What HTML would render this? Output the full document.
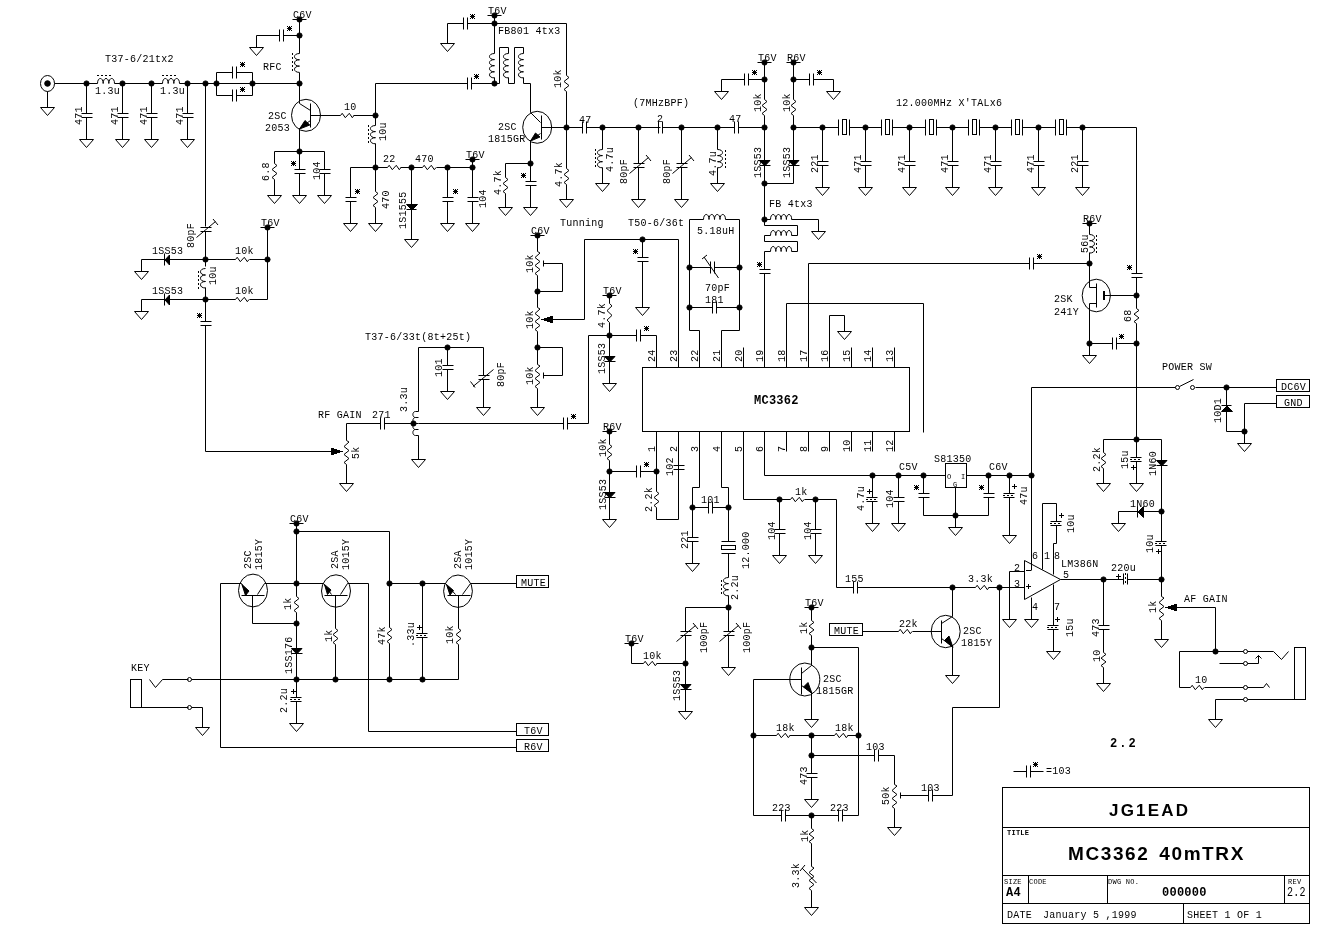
<!DOCTYPE html>
<html><head><meta charset="utf-8"><style>
html,body{margin:0;padding:0;background:#fff;width:1320px;height:928px;overflow:hidden}
svg{display:block;will-change:transform}
polyline,line,polygon,path,circle,rect,ellipse{fill:none;stroke:#000;stroke-width:1}
.f{fill:#000}
.d{stroke-dasharray:2 2}
text{font-family:"Liberation Mono",monospace;font-size:10px;fill:#000;stroke:none;letter-spacing:0.25px}
text.a{font-size:14px}
text.b{font-family:"Liberation Sans",sans-serif;font-size:16px;font-weight:bold}
</style></head><body>
<svg width="1320" height="928" viewBox="0 0 1320 928">
<ellipse cx="47.5" cy="83.5" rx="7" ry="8"/>
<circle class="f" cx="47.5" cy="83.5" r="2.8"/>
<polyline points="47.5,91.5 47.5,107.5"/>
<polygon points="40.5,107.5 54.5,107.5 47.5,115.5"/>
<polyline points="54.5,83.5 97.5,83.5"/>
<path d="M97.5,83.5 C97.5,76.8 103.17,76.8 103.17,83.5 C103.17,76.8 108.84,76.8 108.84,83.5 C108.84,76.8 114.51,76.8 114.51,83.5"/>
<line class="d" x1="97" y1="75.5" x2="113" y2="75.5"/>
<polyline points="114.5,83.5 162.5,83.5"/>
<path d="M162.5,83.5 C162.5,76.8 168.17,76.8 168.17,83.5 C168.17,76.8 173.84,76.8 173.84,83.5 C173.84,76.8 179.51,76.8 179.51,83.5"/>
<line class="d" x1="162" y1="75.5" x2="178" y2="75.5"/>
<polyline points="179.5,83.5 252.5,83.5"/>
<circle class="f" cx="86.5" cy="83.5" r="2.6"/>
<polyline points="86.5,83.5 86.5,113.5"/>
<polyline points="81.5,113.5 92.5,113.5"/>
<polyline points="81.5,117.5 92.5,117.5"/>
<polyline points="86.5,117.5 86.5,139.5"/>
<polygon points="79.5,139.5 93.5,139.5 86.5,147.5"/>
<text transform="translate(82,125) rotate(-90)">471</text>
<circle class="f" cx="122.5" cy="83.5" r="2.6"/>
<polyline points="122.5,83.5 122.5,113.5"/>
<polyline points="117.5,113.5 128.5,113.5"/>
<polyline points="117.5,117.5 128.5,117.5"/>
<polyline points="122.5,117.5 122.5,139.5"/>
<polygon points="115.5,139.5 129.5,139.5 122.5,147.5"/>
<text transform="translate(118,125) rotate(-90)">471</text>
<circle class="f" cx="151.5" cy="83.5" r="2.6"/>
<polyline points="151.5,83.5 151.5,113.5"/>
<polyline points="146.5,113.5 157.5,113.5"/>
<polyline points="146.5,117.5 157.5,117.5"/>
<polyline points="151.5,117.5 151.5,139.5"/>
<polygon points="144.5,139.5 158.5,139.5 151.5,147.5"/>
<text transform="translate(147,125) rotate(-90)">471</text>
<circle class="f" cx="187.5" cy="83.5" r="2.6"/>
<polyline points="187.5,83.5 187.5,113.5"/>
<polyline points="182.5,113.5 193.5,113.5"/>
<polyline points="182.5,117.5 193.5,117.5"/>
<polyline points="187.5,117.5 187.5,139.5"/>
<polygon points="180.5,139.5 194.5,139.5 187.5,147.5"/>
<text transform="translate(183,125) rotate(-90)">471</text>
<text x="95" y="94">1.3u</text>
<text x="160" y="94">1.3u</text>
<text x="105" y="62">T37-6/21tx2</text>
<circle class="f" cx="205.5" cy="83.5" r="2.6"/>
<circle class="f" cx="216.5" cy="83.5" r="2.6"/>
<circle class="f" cx="252.5" cy="83.5" r="2.6"/>
<polyline points="205.5,83.5 205.5,226.5"/>
<polyline points="216.5,83.5 216.5,72.5 232.5,72.5"/>
<polyline points="232.5,66.5 232.5,78.5"/>
<polyline points="236.5,66.5 236.5,78.5"/>
<polyline points="236.5,72.5 252.5,72.5 252.5,83.5"/>
<polyline points="216.5,83.5 216.5,95.5 232.5,95.5"/>
<polyline points="232.5,89.5 232.5,101.5"/>
<polyline points="236.5,89.5 236.5,101.5"/>
<polyline points="236.5,95.5 252.5,95.5 252.5,83.5"/>
<path class="f" style="stroke:none" d="M240 62h1v1h-1zM242 62h1v1h-1zM244 62h1v1h-1zM241 63h1v1h-1zM242 63h1v1h-1zM243 63h1v1h-1zM240 64h1v1h-1zM241 64h1v1h-1zM242 64h1v1h-1zM243 64h1v1h-1zM244 64h1v1h-1zM241 65h1v1h-1zM242 65h1v1h-1zM243 65h1v1h-1zM240 66h1v1h-1zM242 66h1v1h-1zM244 66h1v1h-1z"/>
<path class="f" style="stroke:none" d="M240 87h1v1h-1zM242 87h1v1h-1zM244 87h1v1h-1zM241 88h1v1h-1zM242 88h1v1h-1zM243 88h1v1h-1zM240 89h1v1h-1zM241 89h1v1h-1zM242 89h1v1h-1zM243 89h1v1h-1zM244 89h1v1h-1zM241 90h1v1h-1zM242 90h1v1h-1zM243 90h1v1h-1zM240 91h1v1h-1zM242 91h1v1h-1zM244 91h1v1h-1z"/>
<polyline points="252.5,83.5 299.5,83.5"/>
<circle class="f" cx="299.5" cy="83.5" r="2.6"/>
<polyline points="292.5,19.5 306.5,19.5"/>
<circle class="f" cx="299.5" cy="19.5" r="2.6"/>
<text x="293" y="18">C6V</text>
<polyline points="299.5,19.5 299.5,53.5"/>
<circle class="f" cx="299.5" cy="35.5" r="2.6"/>
<polyline points="299.5,35.5 283.5,35.5"/>
<polyline points="279.5,29.5 279.5,41.5"/>
<polyline points="283.5,29.5 283.5,41.5"/>
<polyline points="279.5,35.5 256.5,35.5 256.5,47.5"/>
<polygon points="249.5,47.5 263.5,47.5 256.5,55.5"/>
<path class="f" style="stroke:none" d="M287 26h1v1h-1zM289 26h1v1h-1zM291 26h1v1h-1zM288 27h1v1h-1zM289 27h1v1h-1zM290 27h1v1h-1zM287 28h1v1h-1zM288 28h1v1h-1zM289 28h1v1h-1zM290 28h1v1h-1zM291 28h1v1h-1zM288 29h1v1h-1zM289 29h1v1h-1zM290 29h1v1h-1zM287 30h1v1h-1zM289 30h1v1h-1zM291 30h1v1h-1z"/>
<path d="M299.5,53.5 C292.8,53.5 292.8,59.8 299.5,59.8 C292.8,59.8 292.8,66.1 299.5,66.1 C292.8,66.1 292.8,72.4 299.5,72.4"/>
<line class="d" x1="292.5" y1="53" x2="292.5" y2="73"/>
<text x="263" y="70">RFC</text>
<polyline points="299.5,72.5 299.5,101.5"/>
<ellipse cx="306" cy="115.3" rx="14.5" ry="16"/>
<polyline points="310.5,103.5 310.5,127.5"/>
<polyline points="299.5,103.5 310.5,110.5"/>
<polyline points="310.5,120.5 299.5,128.5"/>
<polygon class="f" points="299.5,129 305,120.5 309.8,125"/>
<polyline points="299.5,101.5 299.5,103.5"/>
<polyline points="299.5,128.5 299.5,151.5"/>
<polyline points="310.5,115.5 340.5,115.5"/>
<polyline points="340.5,115.5 342.2,113.3 345.3,117.7 349.3,113.3 352.3,117.7 354,115.5"/>
<polyline points="353.5,115.5 375.5,115.5"/>
<circle class="f" cx="375.5" cy="115.5" r="2.6"/>
<text x="268" y="119">2SC</text>
<text x="265" y="131">2053</text>
<text x="344" y="110">10</text>
<circle class="f" cx="299.5" cy="151.5" r="2.6"/>
<polyline points="274.5,163.5 274.5,151.5 324.5,151.5 324.5,169.5"/>
<polyline points="274.5,163.5 277,165.5 272,169.5 277,173.5 272,177.5 274.5,179.5"/>
<polyline points="274.5,179.5 274.5,195.5"/>
<polygon points="267.5,195.5 281.5,195.5 274.5,203.5"/>
<text transform="translate(269,181) rotate(-90)">6.8</text>
<polyline points="299.5,151.5 299.5,169.5"/>
<polyline points="294.5,169.5 305.5,169.5"/>
<polyline points="294.5,173.5 305.5,173.5"/>
<polyline points="299.5,173.5 299.5,195.5"/>
<polygon points="292.5,195.5 306.5,195.5 299.5,203.5"/>
<path class="f" style="stroke:none" d="M291 161h1v1h-1zM293 161h1v1h-1zM295 161h1v1h-1zM292 162h1v1h-1zM293 162h1v1h-1zM294 162h1v1h-1zM291 163h1v1h-1zM292 163h1v1h-1zM293 163h1v1h-1zM294 163h1v1h-1zM295 163h1v1h-1zM292 164h1v1h-1zM293 164h1v1h-1zM294 164h1v1h-1zM291 165h1v1h-1zM293 165h1v1h-1zM295 165h1v1h-1z"/>
<polyline points="319.5,169.5 330.5,169.5"/>
<polyline points="319.5,173.5 330.5,173.5"/>
<polyline points="324.5,173.5 324.5,195.5"/>
<polygon points="317.5,195.5 331.5,195.5 324.5,203.5"/>
<text transform="translate(320,180) rotate(-90)">104</text>
<polyline points="487.5,15.5 501.5,15.5"/>
<circle class="f" cx="494.5" cy="15.5" r="2.6"/>
<text x="488" y="14">T6V</text>
<polyline points="494.5,15.5 494.5,53.5"/>
<circle class="f" cx="494.5" cy="23.5" r="2.6"/>
<polyline points="494.5,23.5 467.5,23.5"/>
<polyline points="463.5,17.5 463.5,29.5"/>
<polyline points="467.5,17.5 467.5,29.5"/>
<polyline points="463.5,23.5 447.5,23.5 447.5,43.5"/>
<polygon points="440.5,43.5 454.5,43.5 447.5,51.5"/>
<path class="f" style="stroke:none" d="M470 14h1v1h-1zM472 14h1v1h-1zM474 14h1v1h-1zM471 15h1v1h-1zM472 15h1v1h-1zM473 15h1v1h-1zM470 16h1v1h-1zM471 16h1v1h-1zM472 16h1v1h-1zM473 16h1v1h-1zM474 16h1v1h-1zM471 17h1v1h-1zM472 17h1v1h-1zM473 17h1v1h-1zM470 18h1v1h-1zM472 18h1v1h-1zM474 18h1v1h-1z"/>
<polyline points="494.5,23.5 566.5,23.5 566.5,75.5"/>
<polyline points="566.5,75.5 569,77.5 564,81.5 569,85.5 564,89.5 566.5,91.5"/>
<polyline points="566.5,91.5 566.5,168.5"/>
<text transform="translate(561,88) rotate(-90)">10k</text>
<text x="498" y="34">FB801 4tx3</text>
<path d="M494.5,53.5 C487.8,53.5 487.8,59.6 494.5,59.6 C487.8,59.6 487.8,65.7 494.5,65.7 C487.8,65.7 487.8,71.8 494.5,71.8 C487.8,71.8 487.8,77.9 494.5,77.9"/>
<polyline points="494.5,77.5 494.5,83.5"/>
<circle class="f" cx="494.5" cy="83.5" r="2.6"/>
<polyline points="494.5,83.5 499.5,83.5 499.5,47.5 508.5,47.5 508.5,53.5"/>
<path d="M508.5,53.5 C501.8,53.5 501.8,59.6 508.5,59.6 C501.8,59.6 501.8,65.7 508.5,65.7 C501.8,65.7 501.8,71.8 508.5,71.8 C501.8,71.8 501.8,77.9 508.5,77.9"/>
<polyline points="508.5,77.5 508.5,83.5 514.5,83.5 514.5,47.5 523.5,47.5 523.5,53.5"/>
<path d="M523.5,53.5 C516.8,53.5 516.8,59.6 523.5,59.6 C516.8,59.6 516.8,65.7 523.5,65.7 C516.8,65.7 516.8,71.8 523.5,71.8 C516.8,71.8 516.8,77.9 523.5,77.9"/>
<polyline points="523.5,77.5 523.5,83.5 530.5,83.5 530.5,112.5"/>
<polyline points="494.5,83.5 471.5,83.5"/>
<polyline points="467.5,77.5 467.5,89.5"/>
<polyline points="471.5,77.5 471.5,89.5"/>
<polyline points="467.5,83.5 375.5,83.5 375.5,115.5"/>
<path class="f" style="stroke:none" d="M474 74h1v1h-1zM476 74h1v1h-1zM478 74h1v1h-1zM475 75h1v1h-1zM476 75h1v1h-1zM477 75h1v1h-1zM474 76h1v1h-1zM475 76h1v1h-1zM476 76h1v1h-1zM477 76h1v1h-1zM478 76h1v1h-1zM475 77h1v1h-1zM476 77h1v1h-1zM477 77h1v1h-1zM474 78h1v1h-1zM476 78h1v1h-1zM478 78h1v1h-1z"/>
<path d="M375.5,125.5 C368.8,125.5 368.8,131.6 375.5,131.6 C368.8,131.6 368.8,137.7 375.5,137.7 C368.8,137.7 368.8,143.8 375.5,143.8"/>
<line class="d" x1="368.5" y1="125" x2="368.5" y2="144"/>
<polyline points="375.5,115.5 375.5,125.5"/>
<polyline points="375.5,143.5 375.5,191.5"/>
<text transform="translate(386,141) rotate(-90)">10u</text>
<circle class="f" cx="375.5" cy="167.5" r="2.6"/>
<polyline points="350.5,197.5 350.5,167.5 387.5,167.5"/>
<polyline points="387.5,167.5 389.2,165.3 392.3,169.7 396.3,165.3 399.3,169.7 401,167.5"/>
<polyline points="400.5,167.5 422.5,167.5"/>
<polyline points="422.5,167.5 424.2,165.3 427.3,169.7 431.3,165.3 434.3,169.7 436,167.5"/>
<polyline points="436.5,167.5 472.5,167.5"/>
<text x="383" y="162">22</text>
<text x="415" y="162">470</text>
<polyline points="345.5,197.5 356.5,197.5"/>
<polyline points="345.5,201.5 356.5,201.5"/>
<polyline points="350.5,201.5 350.5,223.5"/>
<polygon points="343.5,223.5 357.5,223.5 350.5,231.5"/>
<path class="f" style="stroke:none" d="M355 189h1v1h-1zM357 189h1v1h-1zM359 189h1v1h-1zM356 190h1v1h-1zM357 190h1v1h-1zM358 190h1v1h-1zM355 191h1v1h-1zM356 191h1v1h-1zM357 191h1v1h-1zM358 191h1v1h-1zM359 191h1v1h-1zM356 192h1v1h-1zM357 192h1v1h-1zM358 192h1v1h-1zM355 193h1v1h-1zM357 193h1v1h-1zM359 193h1v1h-1z"/>
<polyline points="375.5,191.5 378,193.5 373,197.5 378,201.5 373,205.5 375.5,207.5"/>
<polyline points="375.5,207.5 375.5,223.5"/>
<polygon points="368.5,223.5 382.5,223.5 375.5,231.5"/>
<text transform="translate(389,209) rotate(-90)">470</text>
<circle class="f" cx="411.5" cy="167.5" r="2.6"/>
<polyline points="411.5,167.5 411.5,239.5"/>
<polygon points="404.5,239.5 418.5,239.5 411.5,247.5"/>
<polygon class="f" points="406.5,204.5 417.5,204.5 412,210"/>
<polyline points="406.5,209.5 416.5,209.5"/>
<text transform="translate(406,229) rotate(-90)">1S1555</text>
<circle class="f" cx="447.5" cy="167.5" r="2.6"/>
<polyline points="447.5,167.5 447.5,197.5"/>
<polyline points="442.5,197.5 453.5,197.5"/>
<polyline points="442.5,201.5 453.5,201.5"/>
<polyline points="447.5,201.5 447.5,223.5"/>
<polygon points="440.5,223.5 454.5,223.5 447.5,231.5"/>
<path class="f" style="stroke:none" d="M453 189h1v1h-1zM455 189h1v1h-1zM457 189h1v1h-1zM454 190h1v1h-1zM455 190h1v1h-1zM456 190h1v1h-1zM453 191h1v1h-1zM454 191h1v1h-1zM455 191h1v1h-1zM456 191h1v1h-1zM457 191h1v1h-1zM454 192h1v1h-1zM455 192h1v1h-1zM456 192h1v1h-1zM453 193h1v1h-1zM455 193h1v1h-1zM457 193h1v1h-1z"/>
<polyline points="465.5,159.5 479.5,159.5"/>
<circle class="f" cx="472.5" cy="159.5" r="2.6"/>
<text x="466" y="158">T6V</text>
<circle class="f" cx="472.5" cy="167.5" r="2.6"/>
<polyline points="472.5,159.5 472.5,197.5"/>
<polyline points="467.5,197.5 478.5,197.5"/>
<polyline points="467.5,201.5 478.5,201.5"/>
<polyline points="472.5,201.5 472.5,223.5"/>
<polygon points="465.5,223.5 479.5,223.5 472.5,231.5"/>
<text transform="translate(486,208) rotate(-90)">104</text>
<ellipse cx="537.2" cy="127.3" rx="14.5" ry="16"/>
<polyline points="541.5,115.5 541.5,139.5"/>
<polyline points="530.5,112.5 540.5,122.5"/>
<polyline points="540.5,133.5 530.5,140.5"/>
<polygon class="f" points="530.5,141 535.5,133 540,137"/>
<polyline points="530.5,140.5 530.5,163.5"/>
<circle class="f" cx="530.5" cy="163.5" r="2.6"/>
<text x="498" y="130">2SC</text>
<text x="488" y="142">1815GR</text>
<polyline points="541.5,127.5 582.5,127.5"/>
<circle class="f" cx="566.5" cy="127.5" r="2.6"/>
<polyline points="530.5,163.5 505.5,163.5 505.5,177.5"/>
<polyline points="505.5,177.5 508,179.5 503,183.5 508,187.5 503,191.5 505.5,193.5"/>
<polyline points="505.5,193.5 505.5,207.5"/>
<polygon points="498.5,207.5 512.5,207.5 505.5,215.5"/>
<text transform="translate(501,195) rotate(-90)">4.7k</text>
<polyline points="530.5,163.5 530.5,181.5"/>
<polyline points="525.5,181.5 536.5,181.5"/>
<polyline points="525.5,185.5 536.5,185.5"/>
<polyline points="530.5,185.5 530.5,207.5"/>
<polygon points="523.5,207.5 537.5,207.5 530.5,215.5"/>
<path class="f" style="stroke:none" d="M521 173h1v1h-1zM523 173h1v1h-1zM525 173h1v1h-1zM522 174h1v1h-1zM523 174h1v1h-1zM524 174h1v1h-1zM521 175h1v1h-1zM522 175h1v1h-1zM523 175h1v1h-1zM524 175h1v1h-1zM525 175h1v1h-1zM522 176h1v1h-1zM523 176h1v1h-1zM524 176h1v1h-1zM521 177h1v1h-1zM523 177h1v1h-1zM525 177h1v1h-1z"/>
<polyline points="566.5,168.5 569,170.5 564,174.5 569,178.5 564,182.5 566.5,184.5"/>
<polyline points="566.5,184.5 566.5,199.5"/>
<polygon points="559.5,199.5 573.5,199.5 566.5,207.5"/>
<text transform="translate(562,187) rotate(-90)">4.7k</text>
<polyline points="582.5,121.5 582.5,133.5"/>
<polyline points="586.5,121.5 586.5,133.5"/>
<polyline points="586.5,127.5 660.5,127.5"/>
<text x="579" y="123">47</text>
<circle class="f" cx="602.5" cy="127.5" r="2.6"/>
<polyline points="602.5,127.5 602.5,149.5"/>
<path d="M602.5,149.5 C595.8,149.5 595.8,155.6 602.5,155.6 C595.8,155.6 595.8,161.7 602.5,161.7 C595.8,161.7 595.8,167.8 602.5,167.8"/>
<line class="d" x1="595.5" y1="149" x2="595.5" y2="168"/>
<polyline points="602.5,167.5 602.5,183.5"/>
<polygon points="595.5,183.5 609.5,183.5 602.5,191.5"/>
<text transform="translate(613,172) rotate(-90)">4.7u</text>
<text x="633" y="106">(7MHzBPF)</text>
<circle class="f" cx="638.5" cy="127.5" r="2.6"/>
<polyline points="638.5,127.5 638.5,163.5"/>
<polyline points="633.5,163.5 644.5,163.5"/>
<polyline points="633.5,167.5 644.5,167.5"/>
<polyline points="629.5,173.5 648.5,157.5"/>
<polyline points="646,155 651,161"/>
<polyline points="638.5,167.5 638.5,199.5"/>
<polygon points="631.5,199.5 645.5,199.5 638.5,207.5"/>
<text transform="translate(627,184) rotate(-90)">80pF</text>
<polyline points="658.5,121.5 658.5,133.5"/>
<polyline points="662.5,121.5 662.5,133.5"/>
<text x="657" y="122">2</text>
<polyline points="662.5,127.5 734.5,127.5"/>
<circle class="f" cx="681.5" cy="127.5" r="2.6"/>
<polyline points="681.5,127.5 681.5,163.5"/>
<polyline points="676.5,163.5 687.5,163.5"/>
<polyline points="676.5,167.5 687.5,167.5"/>
<polyline points="672.5,173.5 691.5,157.5"/>
<polyline points="689,155 694,161"/>
<polyline points="681.5,167.5 681.5,199.5"/>
<polygon points="674.5,199.5 688.5,199.5 681.5,207.5"/>
<text transform="translate(670,184) rotate(-90)">80pF</text>
<circle class="f" cx="717.5" cy="127.5" r="2.6"/>
<polyline points="717.5,127.5 717.5,149.5"/>
<path d="M717.5,149.5 C724.2,149.5 724.2,155.6 717.5,155.6 C724.2,155.6 724.2,161.7 717.5,161.7 C724.2,161.7 724.2,167.8 717.5,167.8"/>
<line class="d" x1="725.5" y1="150" x2="725.5" y2="168"/>
<polyline points="717.5,167.5 717.5,183.5"/>
<polygon points="710.5,183.5 724.5,183.5 717.5,191.5"/>
<text transform="translate(716,176) rotate(-90)">4.7u</text>
<polyline points="734.5,121.5 734.5,133.5"/>
<polyline points="738.5,121.5 738.5,133.5"/>
<text x="729" y="122">47</text>
<polyline points="738.5,127.5 764.5,127.5"/>
<polyline points="757.5,62.5 771.5,62.5"/>
<circle class="f" cx="764.5" cy="62.5" r="2.6"/>
<text x="758" y="61">T6V</text>
<circle class="f" cx="764.5" cy="79.5" r="2.6"/>
<polyline points="764.5,62.5 764.5,99.5"/>
<polyline points="764.5,99.5 767,101.5 762,105.5 767,109.5 762,113.5 764.5,115.5"/>
<polyline points="764.5,115.5 764.5,160.5"/>
<polyline points="764.5,79.5 748.5,79.5"/>
<polyline points="744.5,73.5 744.5,85.5"/>
<polyline points="748.5,73.5 748.5,85.5"/>
<polyline points="744.5,79.5 721.5,79.5 721.5,91.5"/>
<polygon points="714.5,91.5 728.5,91.5 721.5,99.5"/>
<path class="f" style="stroke:none" d="M752 70h1v1h-1zM754 70h1v1h-1zM756 70h1v1h-1zM753 71h1v1h-1zM754 71h1v1h-1zM755 71h1v1h-1zM752 72h1v1h-1zM753 72h1v1h-1zM754 72h1v1h-1zM755 72h1v1h-1zM756 72h1v1h-1zM753 73h1v1h-1zM754 73h1v1h-1zM755 73h1v1h-1zM752 74h1v1h-1zM754 74h1v1h-1zM756 74h1v1h-1z"/>
<text transform="translate(761,112) rotate(-90)">10k</text>
<circle class="f" cx="764.5" cy="127.5" r="2.6"/>
<polyline points="786.5,62.5 800.5,62.5"/>
<circle class="f" cx="793.5" cy="62.5" r="2.6"/>
<text x="787" y="61">R6V</text>
<circle class="f" cx="793.5" cy="79.5" r="2.6"/>
<polyline points="793.5,62.5 793.5,99.5"/>
<polyline points="793.5,99.5 796,101.5 791,105.5 796,109.5 791,113.5 793.5,115.5"/>
<polyline points="793.5,115.5 793.5,160.5"/>
<polyline points="793.5,79.5 809.5,79.5"/>
<polyline points="809.5,73.5 809.5,85.5"/>
<polyline points="813.5,73.5 813.5,85.5"/>
<polyline points="813.5,79.5 833.5,79.5 833.5,91.5"/>
<polygon points="826.5,91.5 840.5,91.5 833.5,99.5"/>
<path class="f" style="stroke:none" d="M817 70h1v1h-1zM819 70h1v1h-1zM821 70h1v1h-1zM818 71h1v1h-1zM819 71h1v1h-1zM820 71h1v1h-1zM817 72h1v1h-1zM818 72h1v1h-1zM819 72h1v1h-1zM820 72h1v1h-1zM821 72h1v1h-1zM818 73h1v1h-1zM819 73h1v1h-1zM820 73h1v1h-1zM817 74h1v1h-1zM819 74h1v1h-1zM821 74h1v1h-1z"/>
<text transform="translate(790,112) rotate(-90)">10k</text>
<circle class="f" cx="793.5" cy="127.5" r="2.6"/>
<polygon class="f" points="759.5,160.5 770,160.5 764.75,166"/>
<polyline points="759.5,165.5 770.5,165.5"/>
<polygon class="f" points="788.5,160.5 799,160.5 793.75,166"/>
<polyline points="788.5,165.5 799.5,165.5"/>
<text transform="translate(761,178) rotate(-90)">1SS53</text>
<text transform="translate(790,178) rotate(-90)">1SS53</text>
<polyline points="764.5,165.5 764.5,219.5"/>
<polyline points="793.5,165.5 793.5,183.5 764.5,183.5"/>
<circle class="f" cx="764.5" cy="183.5" r="2.6"/>
<text x="769" y="207">FB 4tx3</text>
<circle class="f" cx="764.5" cy="219.5" r="2.6"/>
<polyline points="764.5,219.5 770.5,219.5"/>
<path d="M770.5,219.5 C770.5,212.8 775.8,212.8 775.8,219.5 C775.8,212.8 781.1,212.8 781.1,219.5 C781.1,212.8 786.4,212.8 786.4,219.5 C786.4,212.8 791.7,212.8 791.7,219.5"/>
<polyline points="791.5,219.5 818.5,219.5 818.5,231.5"/>
<polygon points="811.5,231.5 825.5,231.5 818.5,239.5"/>
<polyline points="764.5,219.5 764.5,225.5 797.5,225.5 797.5,235.5 791.5,235.5"/>
<path d="M770.5,235.5 C770.5,228.8 775.8,228.8 775.8,235.5 C775.8,228.8 781.1,228.8 781.1,235.5 C781.1,228.8 786.4,228.8 786.4,235.5 C786.4,228.8 791.7,228.8 791.7,235.5"/>
<polyline points="770.5,235.5 764.5,235.5 764.5,241.5 797.5,241.5 797.5,251.5 791.5,251.5"/>
<path d="M770.5,251.5 C770.5,244.8 775.8,244.8 775.8,251.5 C775.8,244.8 781.1,244.8 781.1,251.5 C781.1,244.8 786.4,244.8 786.4,251.5 C786.4,244.8 791.7,244.8 791.7,251.5"/>
<polyline points="770.5,251.5 764.5,251.5 764.5,269.5"/>
<polyline points="759.5,269.5 770.5,269.5"/>
<polyline points="759.5,273.5 770.5,273.5"/>
<path class="f" style="stroke:none" d="M757 262h1v1h-1zM759 262h1v1h-1zM761 262h1v1h-1zM758 263h1v1h-1zM759 263h1v1h-1zM760 263h1v1h-1zM757 264h1v1h-1zM758 264h1v1h-1zM759 264h1v1h-1zM760 264h1v1h-1zM761 264h1v1h-1zM758 265h1v1h-1zM759 265h1v1h-1zM760 265h1v1h-1zM757 266h1v1h-1zM759 266h1v1h-1zM761 266h1v1h-1z"/>
<polyline points="764.5,273.5 764.5,367.5"/>
<polyline points="838.5,119.5 838.5,135.5"/>
<polyline points="849.5,119.5 849.5,135.5"/>
<rect x="842.5" y="119.5" width="4" height="15"/>
<polyline points="881.5,119.5 881.5,135.5"/>
<polyline points="892.5,119.5 892.5,135.5"/>
<rect x="885.5" y="119.5" width="4" height="15"/>
<polyline points="925.5,119.5 925.5,135.5"/>
<polyline points="936.5,119.5 936.5,135.5"/>
<rect x="929.5" y="119.5" width="4" height="15"/>
<polyline points="968.5,119.5 968.5,135.5"/>
<polyline points="979.5,119.5 979.5,135.5"/>
<rect x="972.5" y="119.5" width="4" height="15"/>
<polyline points="1011.5,119.5 1011.5,135.5"/>
<polyline points="1022.5,119.5 1022.5,135.5"/>
<rect x="1015.5" y="119.5" width="4" height="15"/>
<polyline points="1055.5,119.5 1055.5,135.5"/>
<polyline points="1066.5,119.5 1066.5,135.5"/>
<rect x="1059.5" y="119.5" width="4" height="15"/>
<circle class="f" cx="822.5" cy="127.5" r="2.6"/>
<polyline points="822.5,127.5 822.5,161.5"/>
<polyline points="817.5,161.5 828.5,161.5"/>
<polyline points="817.5,165.5 828.5,165.5"/>
<polyline points="822.5,165.5 822.5,187.5"/>
<polygon points="815.5,187.5 829.5,187.5 822.5,195.5"/>
<text transform="translate(818,173) rotate(-90)">221</text>
<circle class="f" cx="865.5" cy="127.5" r="2.6"/>
<polyline points="865.5,127.5 865.5,161.5"/>
<polyline points="860.5,161.5 871.5,161.5"/>
<polyline points="860.5,165.5 871.5,165.5"/>
<polyline points="865.5,165.5 865.5,187.5"/>
<polygon points="858.5,187.5 872.5,187.5 865.5,195.5"/>
<text transform="translate(861,173) rotate(-90)">471</text>
<circle class="f" cx="909.5" cy="127.5" r="2.6"/>
<polyline points="909.5,127.5 909.5,161.5"/>
<polyline points="904.5,161.5 915.5,161.5"/>
<polyline points="904.5,165.5 915.5,165.5"/>
<polyline points="909.5,165.5 909.5,187.5"/>
<polygon points="902.5,187.5 916.5,187.5 909.5,195.5"/>
<text transform="translate(905,173) rotate(-90)">471</text>
<circle class="f" cx="952.5" cy="127.5" r="2.6"/>
<polyline points="952.5,127.5 952.5,161.5"/>
<polyline points="947.5,161.5 958.5,161.5"/>
<polyline points="947.5,165.5 958.5,165.5"/>
<polyline points="952.5,165.5 952.5,187.5"/>
<polygon points="945.5,187.5 959.5,187.5 952.5,195.5"/>
<text transform="translate(948,173) rotate(-90)">471</text>
<circle class="f" cx="995.5" cy="127.5" r="2.6"/>
<polyline points="995.5,127.5 995.5,161.5"/>
<polyline points="990.5,161.5 1001.5,161.5"/>
<polyline points="990.5,165.5 1001.5,165.5"/>
<polyline points="995.5,165.5 995.5,187.5"/>
<polygon points="988.5,187.5 1002.5,187.5 995.5,195.5"/>
<text transform="translate(991,173) rotate(-90)">471</text>
<circle class="f" cx="1038.5" cy="127.5" r="2.6"/>
<polyline points="1038.5,127.5 1038.5,161.5"/>
<polyline points="1033.5,161.5 1044.5,161.5"/>
<polyline points="1033.5,165.5 1044.5,165.5"/>
<polyline points="1038.5,165.5 1038.5,187.5"/>
<polygon points="1031.5,187.5 1045.5,187.5 1038.5,195.5"/>
<text transform="translate(1034,173) rotate(-90)">471</text>
<circle class="f" cx="1082.5" cy="127.5" r="2.6"/>
<polyline points="1082.5,127.5 1082.5,161.5"/>
<polyline points="1077.5,161.5 1088.5,161.5"/>
<polyline points="1077.5,165.5 1088.5,165.5"/>
<polyline points="1082.5,165.5 1082.5,187.5"/>
<polygon points="1075.5,187.5 1089.5,187.5 1082.5,195.5"/>
<text transform="translate(1078,173) rotate(-90)">221</text>
<polyline points="793.5,127.5 838.5,127.5"/>
<polyline points="849.5,127.5 881.5,127.5"/>
<polyline points="892.5,127.5 925.5,127.5"/>
<polyline points="936.5,127.5 968.5,127.5"/>
<polyline points="979.5,127.5 1011.5,127.5"/>
<polyline points="1022.5,127.5 1055.5,127.5"/>
<polyline points="1066.5,127.5 1136.5,127.5 1136.5,273.5"/>
<text x="896" y="106">12.000MHz X'TALx6</text>
<polyline points="200.5,227.5 211.5,227.5"/>
<polyline points="200.5,231.5 211.5,231.5"/>
<polyline points="196.5,237.5 215.5,221.5"/>
<polyline points="213,219 218,225"/>
<text transform="translate(194,248) rotate(-90)">80pF</text>
<polyline points="205.5,231.5 205.5,266.5"/>
<circle class="f" cx="205.5" cy="259.5" r="2.6"/>
<polyline points="260.5,227.5 274.5,227.5"/>
<circle class="f" cx="267.5" cy="227.5" r="2.6"/>
<text x="261" y="226">T6V</text>
<polyline points="141.5,271.5 141.5,259.5 164.5,259.5"/>
<polygon points="134.5,271.5 148.5,271.5 141.5,279.5"/>
<polygon class="f" points="165,260 169.5,255 169.5,265"/>
<polyline points="164.5,253.5 164.5,265.5"/>
<polyline points="169.5,259.5 235.5,259.5"/>
<polyline points="235.5,259.5 237.2,257.3 240.3,261.7 244.3,257.3 247.3,261.7 249,259.5"/>
<polyline points="249.5,259.5 267.5,259.5"/>
<circle class="f" cx="267.5" cy="259.5" r="2.6"/>
<polyline points="267.5,227.5 267.5,299.5 249.5,299.5"/>
<polyline points="235.5,299.5 237.2,297.3 240.3,301.7 244.3,297.3 247.3,301.7 249,299.5"/>
<polyline points="235.5,299.5 169.5,299.5"/>
<text x="152" y="254">1SS53</text>
<text x="235" y="254">10k</text>
<text x="152" y="294">1SS53</text>
<text x="235" y="294">10k</text>
<path d="M205.5,268.5 C198.8,268.5 198.8,275 205.5,275 C198.8,275 198.8,281.5 205.5,281.5 C198.8,281.5 198.8,288 205.5,288"/>
<line class="d" x1="198.5" y1="271" x2="198.5" y2="289"/>
<text transform="translate(216,285) rotate(-90)">10u</text>
<polyline points="205.5,287.5 205.5,321.5"/>
<circle class="f" cx="205.5" cy="299.5" r="2.6"/>
<polyline points="141.5,311.5 141.5,299.5 164.5,299.5"/>
<polygon points="134.5,311.5 148.5,311.5 141.5,319.5"/>
<polygon class="f" points="165,300 169.5,295 169.5,305"/>
<polyline points="164.5,293.5 164.5,305.5"/>
<polyline points="200.5,321.5 211.5,321.5"/>
<polyline points="200.5,325.5 211.5,325.5"/>
<path class="f" style="stroke:none" d="M197 313h1v1h-1zM199 313h1v1h-1zM201 313h1v1h-1zM198 314h1v1h-1zM199 314h1v1h-1zM200 314h1v1h-1zM197 315h1v1h-1zM198 315h1v1h-1zM199 315h1v1h-1zM200 315h1v1h-1zM201 315h1v1h-1zM198 316h1v1h-1zM199 316h1v1h-1zM200 316h1v1h-1zM197 317h1v1h-1zM199 317h1v1h-1zM201 317h1v1h-1z"/>
<polyline points="205.5,325.5 205.5,451.5 332.5,451.5"/>
<text x="318" y="418">RF GAIN</text>
<text x="372" y="418">271</text>
<polyline points="346.5,440.5 346.5,423.5 380.5,423.5"/>
<polyline points="380.5,417.5 380.5,429.5"/>
<polyline points="384.5,417.5 384.5,429.5"/>
<polyline points="384.5,423.5 418.5,423.5"/>
<circle class="f" cx="413.5" cy="423.5" r="2.6"/>
<polyline points="346.5,440.5 349,442 344,446.5 349,450.5 344,454.5 349,458.5 344,462.5 346.5,464.5"/>
<polyline points="346.5,464.5 346.5,483.5"/>
<polygon points="339.5,483.5 353.5,483.5 346.5,491.5"/>
<path class="f" style="stroke:none" d="M340 451h3v1h-3zM337 450h3v3h-3zM334 449h3v5h-3zM331 448h3v7h-3z"/>
<text transform="translate(359,459) rotate(-90)">5k</text>
<text x="365" y="340">T37-6/33t(8t+25t)</text>
<polyline points="418.5,347.5 418.5,411.5 415.5,411.5"/>
<path d="M415.5,411.5 C412,411.5 412,417.5 415.5,417.5 L418.5,417.5 M415.5,417.5 C412,417.5 412,423.5 415.5,423.5 M415.5,423.5 C412,423.5 412,429.5 415.5,429.5 L418.5,429.5 M415.5,429.5 C412,429.5 412,435.5 415.5,435.5 L418.5,435.5"/>
<polyline points="418.5,435.5 418.5,459.5"/>
<polygon points="411.5,459.5 425.5,459.5 418.5,467.5"/>
<text transform="translate(407,412) rotate(-90)">3.3u</text>
<polyline points="418.5,347.5 483.5,347.5 483.5,375.5"/>
<circle class="f" cx="447.5" cy="347.5" r="2.6"/>
<polyline points="447.5,347.5 447.5,365.5"/>
<polyline points="442.5,365.5 453.5,365.5"/>
<polyline points="442.5,369.5 453.5,369.5"/>
<polyline points="447.5,369.5 447.5,391.5"/>
<polygon points="440.5,391.5 454.5,391.5 447.5,399.5"/>
<text transform="translate(442,377) rotate(-90)">101</text>
<polyline points="478.5,375.5 489.5,375.5"/>
<polyline points="478.5,379.5 489.5,379.5"/>
<polyline points="473,386.5 493.5,369.5"/>
<polyline points="470.5,381.5 475,387.5"/>
<polyline points="483.5,379.5 483.5,407.5"/>
<polygon points="476.5,407.5 490.5,407.5 483.5,415.5"/>
<text transform="translate(504,387) rotate(-90)">80pF</text>
<polyline points="418.5,423.5 563.5,423.5"/>
<polyline points="563.5,417.5 563.5,429.5"/>
<polyline points="567.5,417.5 567.5,429.5"/>
<polyline points="567.5,423.5 588.5,423.5 588.5,335.5 609.5,335.5"/>
<path class="f" style="stroke:none" d="M571 414h1v1h-1zM573 414h1v1h-1zM575 414h1v1h-1zM572 415h1v1h-1zM573 415h1v1h-1zM574 415h1v1h-1zM571 416h1v1h-1zM572 416h1v1h-1zM573 416h1v1h-1zM574 416h1v1h-1zM575 416h1v1h-1zM572 417h1v1h-1zM573 417h1v1h-1zM574 417h1v1h-1zM571 418h1v1h-1zM573 418h1v1h-1zM575 418h1v1h-1z"/>
<text x="560" y="226">Tunning</text>
<polyline points="530.5,235.5 544.5,235.5"/>
<circle class="f" cx="537.5" cy="235.5" r="2.6"/>
<text x="531" y="234">C6V</text>
<polyline points="537.5,235.5 537.5,251.5"/>
<polyline points="537.5,251.5 540,253 535,257.5 540,261.5 535,265.5 540,269.5 535,273.5 537.5,275.5"/>
<polyline points="537.5,275.5 537.5,307.5"/>
<polyline points="543.5,260.5 543.5,266.5"/>
<polyline points="543.5,263.5 562.5,263.5 562.5,291.5 537.5,291.5"/>
<circle class="f" cx="537.5" cy="291.5" r="2.6"/>
<text transform="translate(533,273) rotate(-90)">10k</text>
<polyline points="537.5,307.5 540,309 535,313.5 540,317.5 535,321.5 540,325.5 535,329.5 537.5,331.5"/>
<polyline points="537.5,331.5 537.5,364.5"/>
<circle class="f" cx="537.5" cy="347.5" r="2.6"/>
<path class="f" style="stroke:none" d="M541 319h3v1h-3zM544 318h3v3h-3zM547 317h3v5h-3zM550 316h3v7h-3z"/>
<polyline points="552.5,319.5 584.5,319.5 584.5,239.5 678.5,239.5 678.5,367.5"/>
<text transform="translate(533,329) rotate(-90)">10k</text>
<polyline points="537.5,364.5 540,366 535,370.5 540,374.5 535,378.5 540,382.5 535,386.5 537.5,388.5"/>
<polyline points="537.5,388.5 537.5,407.5"/>
<polygon points="530.5,407.5 544.5,407.5 537.5,415.5"/>
<polyline points="543.5,372.5 543.5,378.5"/>
<polyline points="543.5,375.5 562.5,375.5 562.5,347.5 537.5,347.5"/>
<text transform="translate(533,385) rotate(-90)">10k</text>
<circle class="f" cx="642.5" cy="239.5" r="2.6"/>
<polyline points="642.5,239.5 642.5,257.5"/>
<polyline points="637.5,257.5 648.5,257.5"/>
<polyline points="637.5,261.5 648.5,261.5"/>
<polyline points="642.5,261.5 642.5,307.5"/>
<polygon points="635.5,307.5 649.5,307.5 642.5,315.5"/>
<path class="f" style="stroke:none" d="M633 249h1v1h-1zM635 249h1v1h-1zM637 249h1v1h-1zM634 250h1v1h-1zM635 250h1v1h-1zM636 250h1v1h-1zM633 251h1v1h-1zM634 251h1v1h-1zM635 251h1v1h-1zM636 251h1v1h-1zM637 251h1v1h-1zM634 252h1v1h-1zM635 252h1v1h-1zM636 252h1v1h-1zM633 253h1v1h-1zM635 253h1v1h-1zM637 253h1v1h-1z"/>
<polyline points="602.5,295.5 616.5,295.5"/>
<circle class="f" cx="609.5" cy="295.5" r="2.6"/>
<text x="603" y="294">T6V</text>
<polyline points="609.5,295.5 609.5,303.5"/>
<polyline points="609.5,303.5 612,305.88 607,310.62 612,315.38 607,320.12 609.5,322.5"/>
<polyline points="609.5,322.5 609.5,356.5"/>
<text transform="translate(605,328) rotate(-90)">4.7k</text>
<circle class="f" cx="609.5" cy="335.5" r="2.6"/>
<polyline points="609.5,335.5 636.5,335.5"/>
<polyline points="636.5,329.5 636.5,341.5"/>
<polyline points="640.5,329.5 640.5,341.5"/>
<polyline points="640.5,335.5 656.5,335.5 656.5,367.5"/>
<path class="f" style="stroke:none" d="M644 326h1v1h-1zM646 326h1v1h-1zM648 326h1v1h-1zM645 327h1v1h-1zM646 327h1v1h-1zM647 327h1v1h-1zM644 328h1v1h-1zM645 328h1v1h-1zM646 328h1v1h-1zM647 328h1v1h-1zM648 328h1v1h-1zM645 329h1v1h-1zM646 329h1v1h-1zM647 329h1v1h-1zM644 330h1v1h-1zM646 330h1v1h-1zM648 330h1v1h-1z"/>
<polygon class="f" points="604.5,356.5 615,356.5 609.75,362"/>
<polyline points="604.5,361.5 615.5,361.5"/>
<polyline points="609.5,361.5 609.5,383.5"/>
<polygon points="602.5,383.5 616.5,383.5 609.5,391.5"/>
<text transform="translate(605,374) rotate(-90)">1SS53</text>
<text x="628" y="226">T50-6/36t</text>
<rect x="642.5" y="367.5" width="267" height="64"/>
<text x="754" y="404" style="font-size:12px;font-weight:bold">MC3362</text>
<text transform="translate(655,362) rotate(-90)">24</text>
<text transform="translate(655,452) rotate(-90)">1</text>
<text transform="translate(677,362) rotate(-90)">23</text>
<text transform="translate(677,452) rotate(-90)">2</text>
<text transform="translate(698,362) rotate(-90)">22</text>
<text transform="translate(698,452) rotate(-90)">3</text>
<text transform="translate(720,362) rotate(-90)">21</text>
<text transform="translate(720,452) rotate(-90)">4</text>
<text transform="translate(742,362) rotate(-90)">20</text>
<text transform="translate(742,452) rotate(-90)">5</text>
<text transform="translate(763,362) rotate(-90)">19</text>
<text transform="translate(763,452) rotate(-90)">6</text>
<text transform="translate(785,362) rotate(-90)">18</text>
<text transform="translate(785,452) rotate(-90)">7</text>
<text transform="translate(807,362) rotate(-90)">17</text>
<text transform="translate(807,452) rotate(-90)">8</text>
<text transform="translate(828,362) rotate(-90)">16</text>
<text transform="translate(828,452) rotate(-90)">9</text>
<text transform="translate(850,362) rotate(-90)">15</text>
<text transform="translate(850,452) rotate(-90)">10</text>
<text transform="translate(871,362) rotate(-90)">14</text>
<text transform="translate(871,452) rotate(-90)">11</text>
<text transform="translate(893,362) rotate(-90)">13</text>
<text transform="translate(893,452) rotate(-90)">12</text>
<polyline points="743.5,347.5 743.5,367.5"/>
<polyline points="851.5,347.5 851.5,367.5"/>
<polyline points="872.5,347.5 872.5,367.5"/>
<polyline points="894.5,347.5 894.5,367.5"/>
<polyline points="786.5,431.5 786.5,451.5"/>
<polyline points="808.5,431.5 808.5,451.5"/>
<polyline points="829.5,431.5 829.5,451.5"/>
<polyline points="851.5,431.5 851.5,451.5"/>
<polyline points="872.5,431.5 872.5,451.5"/>
<polyline points="894.5,431.5 894.5,451.5"/>
<polyline points="689.5,330.5 689.5,219.5 703.5,219.5"/>
<path d="M703.5,219.5 C703.5,212.8 709,212.8 709,219.5 C709,212.8 714.5,212.8 714.5,219.5 C714.5,212.8 720,212.8 720,219.5 C720,212.8 725.5,212.8 725.5,219.5"/>
<polyline points="725.5,219.5 739.5,219.5 739.5,330.5"/>
<text x="697" y="234">5.18uH</text>
<circle class="f" cx="689.5" cy="267.5" r="2.6"/>
<circle class="f" cx="739.5" cy="267.5" r="2.6"/>
<polyline points="689.5,267.5 710.5,267.5"/>
<polyline points="710.5,261.5 710.5,273.5"/>
<polyline points="714.5,261.5 714.5,273.5"/>
<polyline points="704,257 718.5,278"/>
<polyline points="702,259 707,255"/>
<polyline points="714.5,267.5 739.5,267.5"/>
<text x="705" y="291">70pF</text>
<text x="705" y="303">181</text>
<circle class="f" cx="689.5" cy="307.5" r="2.6"/>
<circle class="f" cx="739.5" cy="307.5" r="2.6"/>
<polyline points="689.5,307.5 712.5,307.5"/>
<polyline points="712.5,301.5 712.5,313.5"/>
<polyline points="716.5,301.5 716.5,313.5"/>
<polyline points="716.5,307.5 739.5,307.5"/>
<polyline points="689.5,330.5 699.5,330.5 699.5,367.5"/>
<polyline points="739.5,330.5 721.5,330.5 721.5,367.5"/>
<polyline points="786.5,367.5 786.5,303.5 923.5,303.5 923.5,432.5"/>
<polyline points="808.5,367.5 808.5,263.5 1029.5,263.5"/>
<polyline points="1029.5,257.5 1029.5,269.5"/>
<polyline points="1033.5,257.5 1033.5,269.5"/>
<polyline points="1033.5,263.5 1089.5,263.5"/>
<path class="f" style="stroke:none" d="M1037 254h1v1h-1zM1039 254h1v1h-1zM1041 254h1v1h-1zM1038 255h1v1h-1zM1039 255h1v1h-1zM1040 255h1v1h-1zM1037 256h1v1h-1zM1038 256h1v1h-1zM1039 256h1v1h-1zM1040 256h1v1h-1zM1041 256h1v1h-1zM1038 257h1v1h-1zM1039 257h1v1h-1zM1040 257h1v1h-1zM1037 258h1v1h-1zM1039 258h1v1h-1zM1041 258h1v1h-1z"/>
<polyline points="829.5,367.5 829.5,315.5 844.5,315.5 844.5,331.5"/>
<polygon points="837.5,331.5 851.5,331.5 844.5,339.5"/>
<polyline points="1082.5,223.5 1096.5,223.5"/>
<circle class="f" cx="1089.5" cy="223.5" r="2.6"/>
<text x="1083" y="222">R6V</text>
<polyline points="1089.5,223.5 1089.5,234.5"/>
<path d="M1089.5,234.5 C1096.2,234.5 1096.2,240.7 1089.5,240.7 C1096.2,240.7 1096.2,246.9 1089.5,246.9 C1096.2,246.9 1096.2,253.1 1089.5,253.1"/>
<line class="d" x1="1096.5" y1="235" x2="1096.5" y2="253"/>
<text transform="translate(1088,253) rotate(-90)">56u</text>
<polyline points="1089.5,252.5 1089.5,287.5 1096.5,287.5"/>
<circle class="f" cx="1089.5" cy="263.5" r="2.6"/>
<ellipse cx="1096.3" cy="295.5" rx="14.1" ry="16.3"/>
<polyline points="1096.5,283.5 1096.5,307.5"/>
<polyline points="1096.5,303.5 1089.5,303.5 1089.5,355.5"/>
<polygon points="1082.5,355.5 1096.5,355.5 1089.5,363.5"/>
<rect class="f" x="1103" y="291" width="2" height="9" style="stroke:none"/>
<polyline points="1104.5,295.5 1136.5,295.5"/>
<circle class="f" cx="1136.5" cy="295.5" r="2.6"/>
<text x="1054" y="302">2SK</text>
<text x="1054" y="315">241Y</text>
<polyline points="1131.5,273.5 1142.5,273.5"/>
<polyline points="1131.5,277.5 1142.5,277.5"/>
<path class="f" style="stroke:none" d="M1127 265h1v1h-1zM1129 265h1v1h-1zM1131 265h1v1h-1zM1128 266h1v1h-1zM1129 266h1v1h-1zM1130 266h1v1h-1zM1127 267h1v1h-1zM1128 267h1v1h-1zM1129 267h1v1h-1zM1130 267h1v1h-1zM1131 267h1v1h-1zM1128 268h1v1h-1zM1129 268h1v1h-1zM1130 268h1v1h-1zM1127 269h1v1h-1zM1129 269h1v1h-1zM1131 269h1v1h-1z"/>
<polyline points="1136.5,277.5 1136.5,308.5"/>
<polyline points="1136.5,308.5 1139,310.38 1134,314.12 1139,317.88 1134,321.62 1136.5,323.5"/>
<polyline points="1136.5,323.5 1136.5,439.5"/>
<text transform="translate(1131,322) rotate(-90)">68</text>
<circle class="f" cx="1136.5" cy="343.5" r="2.6"/>
<polyline points="1136.5,343.5 1116.5,343.5"/>
<polyline points="1112.5,337.5 1112.5,349.5"/>
<polyline points="1116.5,337.5 1116.5,349.5"/>
<polyline points="1112.5,343.5 1089.5,343.5"/>
<circle class="f" cx="1089.5" cy="343.5" r="2.6"/>
<path class="f" style="stroke:none" d="M1119 334h1v1h-1zM1121 334h1v1h-1zM1123 334h1v1h-1zM1120 335h1v1h-1zM1121 335h1v1h-1zM1122 335h1v1h-1zM1119 336h1v1h-1zM1120 336h1v1h-1zM1121 336h1v1h-1zM1122 336h1v1h-1zM1123 336h1v1h-1zM1120 337h1v1h-1zM1121 337h1v1h-1zM1122 337h1v1h-1zM1119 338h1v1h-1zM1121 338h1v1h-1zM1123 338h1v1h-1z"/>
<text x="1162" y="370">POWER SW</text>
<polyline points="1031.5,570.5 1031.5,387.5 1175.5,387.5"/>
<circle cx="1177.5" cy="387.5" r="2"/><circle cx="1192.5" cy="387.5" r="2"/>
<polyline points="1179.5,386.5 1193.5,379.5"/>
<polyline points="1195.5,387.5 1276.5,387.5"/>
<circle class="f" cx="1226.5" cy="387.5" r="2.6"/>
<rect x="1276.5" y="379.5" width="33" height="12"/>
<text x="1281" y="390">DC6V</text>
<rect x="1276.5" y="395.5" width="33" height="12"/>
<text x="1284" y="406">GND</text>
<polyline points="1276.5,403.5 1244.5,403.5 1244.5,443.5"/>
<polygon points="1237.5,443.5 1251.5,443.5 1244.5,451.5"/>
<polyline points="1226.5,387.5 1226.5,431.5 1244.5,431.5"/>
<circle class="f" cx="1244.5" cy="431.5" r="2.6"/>
<polygon class="f" points="1227,406 1221.5,411.5 1232.5,411.5"/>
<polyline points="1221.5,405.5 1231.5,405.5"/>
<text transform="translate(1221,423) rotate(-90)">10D1</text>
<polyline points="289.5,523.5 303.5,523.5"/>
<circle class="f" cx="296.5" cy="523.5" r="2.6"/>
<text x="290" y="522">C6V</text>
<circle class="f" cx="296.5" cy="531.5" r="2.6"/>
<polyline points="296.5,523.5 296.5,596.5"/>
<polyline points="296.5,531.5 389.5,531.5 389.5,627.5"/>
<circle class="f" cx="296.5" cy="583.5" r="2.6"/>
<ellipse cx="253" cy="590.5" rx="14.5" ry="16.4"/>
<polyline points="241.5,595.5 264.5,595.5"/>
<polyline points="220.5,747.5 220.5,583.5 241.5,583.5 246.5,594.5"/>
<polygon class="f" points="242,584.5 249,591 245.5,595.5"/>
<polyline points="257.5,594.5 264.5,583.5 323.5,583.5 331.5,594.5"/>
<polyline points="252.5,595.5 252.5,623.5 296.5,623.5"/>
<circle class="f" cx="296.5" cy="623.5" r="2.6"/>
<text transform="translate(251,569) rotate(-90)">2SC</text>
<text transform="translate(262,570) rotate(-90)">1815Y</text>
<polyline points="296.5,596.5 299,598.5 294,602.5 299,606.5 294,610.5 296.5,612.5"/>
<polyline points="296.5,612.5 296.5,648.5"/>
<text transform="translate(291,610) rotate(-90)">1k</text>
<polygon class="f" points="291.5,648.5 302,648.5 296.75,654"/>
<polyline points="291.5,653.5 302.5,653.5"/>
<polyline points="296.5,653.5 296.5,697.5"/>
<circle class="f" cx="296.5" cy="679.5" r="2.6"/>
<text transform="translate(292,674) rotate(-90)">1SS176</text>
<polyline points="290.5,697.5 301.5,697.5"/>
<polyline points="290.5,701.5 301.5,701.5"/>
<path class="f" style="stroke:none" d="M290 699h2v1h-2zM294 699h2v1h-2zM298 699h2v1h-2z"/>
<path class="f" style="stroke:none" d="M291 691h5v1h-5zM293 689h1v5h-1z"/>
<polyline points="296.5,701.5 296.5,723.5"/>
<polygon points="289.5,723.5 303.5,723.5 296.5,731.5"/>
<text transform="translate(287,713) rotate(-90)">2.2u</text>
<ellipse cx="336" cy="591" rx="14.5" ry="16.2"/>
<polyline points="324.5,595.5 347.5,595.5"/>
<polygon class="f" points="324.5,584.5 331,590 327.5,594.5"/>
<polyline points="340.5,594.5 347.5,583.5 368.5,583.5 368.5,731.5 516.5,731.5"/>
<polyline points="335.5,595.5 335.5,628.5"/>
<polyline points="335.5,628.5 338,630.5 333,634.5 338,638.5 333,642.5 335.5,644.5"/>
<polyline points="335.5,644.5 335.5,679.5"/>
<circle class="f" cx="335.5" cy="679.5" r="2.6"/>
<text transform="translate(338,569) rotate(-90)">2SA</text>
<text transform="translate(349,570) rotate(-90)">1015Y</text>
<text transform="translate(332,642) rotate(-90)">1k</text>
<polyline points="389.5,627.5 392,629.5 387,633.5 392,637.5 387,641.5 389.5,643.5"/>
<polyline points="389.5,643.5 389.5,679.5"/>
<circle class="f" cx="389.5" cy="583.5" r="2.6"/>
<circle class="f" cx="389.5" cy="679.5" r="2.6"/>
<text transform="translate(385,645) rotate(-90)">47k</text>
<polyline points="389.5,583.5 445.5,583.5"/>
<circle class="f" cx="422.5" cy="583.5" r="2.6"/>
<polyline points="422.5,583.5 422.5,633.5"/>
<polyline points="416.5,633.5 427.5,633.5"/>
<polyline points="416.5,637.5 427.5,637.5"/>
<path class="f" style="stroke:none" d="M416 635h2v1h-2zM420 635h2v1h-2zM424 635h2v1h-2z"/>
<path class="f" style="stroke:none" d="M417 627h5v1h-5zM419 625h1v5h-1z"/>
<polyline points="422.5,637.5 422.5,679.5"/>
<circle class="f" cx="422.5" cy="679.5" r="2.6"/>
<text transform="translate(414,647) rotate(-90)">.33u</text>
<ellipse cx="458" cy="591.2" rx="14.4" ry="16.2"/>
<polyline points="447.5,595.5 470.5,595.5"/>
<polyline points="445.5,583.5 455.5,594.5"/>
<polygon class="f" points="446.5,584.5 453.5,590.5 450,595"/>
<polyline points="462.5,594.5 470.5,583.5 516.5,583.5"/>
<rect x="516.5" y="575.5" width="32" height="12"/>
<text x="521" y="586">MUTE</text>
<polyline points="458.5,595.5 458.5,628.5"/>
<polyline points="458.5,628.5 461,630.5 456,634.5 461,638.5 456,642.5 458.5,644.5"/>
<polyline points="458.5,644.5 458.5,679.5"/>
<text transform="translate(453,644) rotate(-90)">10k</text>
<text transform="translate(461,569) rotate(-90)">2SA</text>
<text transform="translate(472,570) rotate(-90)">1015Y</text>
<polyline points="191.5,679.5 458.5,679.5"/>
<text x="131" y="671">KEY</text>
<rect x="130.5" y="679.5" width="11" height="28"/>
<polyline points="149.5,679.5 155.5,687.5 162.5,679.5 188.5,679.5"/>
<circle cx="189.5" cy="679.5" r="2" fill="#fff"/>
<polyline points="141.5,707.5 188.5,707.5"/>
<circle cx="189.5" cy="707.5" r="2" fill="#fff"/>
<polyline points="191.5,707.5 202.5,707.5 202.5,727.5"/>
<polygon points="195.5,727.5 209.5,727.5 202.5,735.5"/>
<rect x="516.5" y="723.5" width="32" height="12"/>
<text x="524" y="734">T6V</text>
<rect x="516.5" y="739.5" width="32" height="12"/>
<text x="524" y="750">R6V</text>
<polyline points="220.5,747.5 516.5,747.5"/>
<polyline points="602.5,431.5 616.5,431.5"/>
<circle class="f" cx="609.5" cy="431.5" r="2.6"/>
<text x="603" y="430">R6V</text>
<polyline points="609.5,431.5 609.5,444.5"/>
<polyline points="609.5,444.5 612,446.5 607,450.5 612,454.5 607,458.5 609.5,460.5"/>
<polyline points="609.5,460.5 609.5,492.5"/>
<text transform="translate(606,457) rotate(-90)">10k</text>
<circle class="f" cx="609.5" cy="471.5" r="2.6"/>
<polyline points="609.5,471.5 636.5,471.5"/>
<polyline points="636.5,465.5 636.5,477.5"/>
<polyline points="640.5,465.5 640.5,477.5"/>
<polyline points="640.5,471.5 656.5,471.5"/>
<path class="f" style="stroke:none" d="M644 462h1v1h-1zM646 462h1v1h-1zM648 462h1v1h-1zM645 463h1v1h-1zM646 463h1v1h-1zM647 463h1v1h-1zM644 464h1v1h-1zM645 464h1v1h-1zM646 464h1v1h-1zM647 464h1v1h-1zM648 464h1v1h-1zM645 465h1v1h-1zM646 465h1v1h-1zM647 465h1v1h-1zM644 466h1v1h-1zM646 466h1v1h-1zM648 466h1v1h-1z"/>
<polygon class="f" points="604.5,492.5 615,492.5 609.75,498"/>
<polyline points="604.5,497.5 615.5,497.5"/>
<polyline points="609.5,497.5 609.5,519.5"/>
<polygon points="602.5,519.5 616.5,519.5 609.5,527.5"/>
<text transform="translate(606,510) rotate(-90)">1SS53</text>
<polyline points="656.5,431.5 656.5,491.5"/>
<circle class="f" cx="656.5" cy="471.5" r="2.6"/>
<polyline points="656.5,491.5 659,493.5 654,497.5 659,501.5 654,505.5 656.5,507.5"/>
<polyline points="656.5,507.5 656.5,519.5 678.5,519.5 678.5,431.5"/>
<text transform="translate(652,512) rotate(-90)">2.2k</text>
<polyline points="673.5,465.5 684.5,465.5"/>
<polyline points="673.5,469.5 684.5,469.5"/>
<text transform="translate(673,476) rotate(-90)">102</text>
<polyline points="699.5,431.5 699.5,487.5 692.5,487.5 692.5,537.5"/>
<circle class="f" cx="692.5" cy="507.5" r="2.6"/>
<polyline points="721.5,431.5 721.5,487.5 728.5,487.5 728.5,541.5"/>
<circle class="f" cx="728.5" cy="507.5" r="2.6"/>
<polyline points="692.5,507.5 708.5,507.5"/>
<polyline points="708.5,501.5 708.5,513.5"/>
<polyline points="712.5,501.5 712.5,513.5"/>
<polyline points="712.5,507.5 728.5,507.5"/>
<text x="701" y="503">101</text>
<polyline points="687.5,537.5 698.5,537.5"/>
<polyline points="687.5,541.5 698.5,541.5"/>
<polyline points="692.5,541.5 692.5,563.5"/>
<polygon points="685.5,563.5 699.5,563.5 692.5,571.5"/>
<text transform="translate(688,549) rotate(-90)">221</text>
<polyline points="721.5,541.5 735.5,541.5"/>
<polyline points="721.5,553.5 735.5,553.5"/>
<rect x="721.5" y="545.5" width="14" height="4"/>
<text transform="translate(749,569) rotate(-90)">12.000</text>
<polyline points="728.5,553.5 728.5,577.5"/>
<path d="M728.5,577.5 C721.8,577.5 721.8,583.6 728.5,583.6 C721.8,583.6 721.8,589.7 728.5,589.7 C721.8,589.7 721.8,595.8 728.5,595.8"/>
<line class="d" x1="721.5" y1="580" x2="721.5" y2="596"/>
<text transform="translate(738,600) rotate(-90)">2.2u</text>
<polyline points="728.5,595.5 728.5,631.5"/>
<circle class="f" cx="728.5" cy="607.5" r="2.6"/>
<polyline points="728.5,607.5 685.5,607.5 685.5,631.5"/>
<polyline points="680.5,631.5 691.5,631.5"/>
<polyline points="680.5,635.5 691.5,635.5"/>
<polyline points="676.5,641.5 695.5,625.5"/>
<polyline points="693,623 698,629"/>
<polyline points="723.5,631.5 734.5,631.5"/>
<polyline points="723.5,635.5 734.5,635.5"/>
<polyline points="719.5,641.5 738.5,625.5"/>
<polyline points="736,623 741,629"/>
<polyline points="685.5,635.5 685.5,684.5"/>
<circle class="f" cx="685.5" cy="663.5" r="2.6"/>
<polyline points="728.5,635.5 728.5,667.5"/>
<polygon points="721.5,667.5 735.5,667.5 728.5,675.5"/>
<text transform="translate(707,653) rotate(-90)">100pF</text>
<text transform="translate(750,653) rotate(-90)">100pF</text>
<polyline points="624.5,643.5 638.5,643.5"/>
<circle class="f" cx="631.5" cy="643.5" r="2.6"/>
<text x="625" y="642">T6V</text>
<polyline points="631.5,643.5 631.5,663.5 643.5,663.5"/>
<polyline points="643.5,663.5 645.2,661.3 648.3,665.7 652.3,661.3 655.3,665.7 657,663.5"/>
<polyline points="656.5,663.5 685.5,663.5"/>
<text x="643" y="659">10k</text>
<polygon class="f" points="680.5,684.5 691,684.5 685.75,690"/>
<polyline points="680.5,689.5 691.5,689.5"/>
<polyline points="685.5,689.5 685.5,711.5"/>
<polygon points="678.5,711.5 692.5,711.5 685.5,719.5"/>
<text transform="translate(680,701) rotate(-90)">1SS53</text>
<polyline points="743.5,431.5 743.5,499.5 790.5,499.5"/>
<circle class="f" cx="779.5" cy="499.5" r="2.6"/>
<polyline points="790.5,499.5 792.2,497.3 795.3,501.7 799.3,497.3 802.3,501.7 804,499.5"/>
<polyline points="804.5,499.5 836.5,499.5 836.5,587.5 853.5,587.5"/>
<circle class="f" cx="815.5" cy="499.5" r="2.6"/>
<text x="795" y="495">1k</text>
<polyline points="779.5,499.5 779.5,529.5"/>
<polyline points="774.5,529.5 785.5,529.5"/>
<polyline points="774.5,533.5 785.5,533.5"/>
<polyline points="779.5,533.5 779.5,555.5"/>
<polygon points="772.5,555.5 786.5,555.5 779.5,563.5"/>
<polyline points="815.5,499.5 815.5,529.5"/>
<polyline points="810.5,529.5 821.5,529.5"/>
<polyline points="810.5,533.5 821.5,533.5"/>
<polyline points="815.5,533.5 815.5,555.5"/>
<polygon points="808.5,555.5 822.5,555.5 815.5,563.5"/>
<text transform="translate(775,540) rotate(-90)">104</text>
<text transform="translate(811,540) rotate(-90)">104</text>
<polyline points="853.5,581.5 853.5,593.5"/>
<polyline points="857.5,581.5 857.5,593.5"/>
<text x="845" y="582">155</text>
<polyline points="857.5,587.5 975.5,587.5"/>
<circle class="f" cx="952.5" cy="587.5" r="2.6"/>
<polyline points="975.5,587.5 977.2,585.3 980.3,589.7 984.3,585.3 987.3,589.7 989,587.5"/>
<text x="968" y="582">3.3k</text>
<polyline points="988.5,587.5 1024.5,587.5"/>
<circle class="f" cx="999.5" cy="587.5" r="2.6"/>
<polyline points="764.5,431.5 764.5,475.5 945.5,475.5"/>
<text x="899" y="470">C5V</text>
<circle class="f" cx="872.5" cy="475.5" r="2.6"/>
<polyline points="872.5,475.5 872.5,497.5"/>
<polyline points="866.5,497.5 877.5,497.5"/>
<polyline points="866.5,501.5 877.5,501.5"/>
<path class="f" style="stroke:none" d="M866 499h2v1h-2zM870 499h2v1h-2zM874 499h2v1h-2z"/>
<path class="f" style="stroke:none" d="M867 491h5v1h-5zM869 489h1v5h-1z"/>
<polyline points="872.5,501.5 872.5,523.5"/>
<polygon points="865.5,523.5 879.5,523.5 872.5,531.5"/>
<text transform="translate(864,511) rotate(-90)">4.7u</text>
<circle class="f" cx="898.5" cy="475.5" r="2.6"/>
<polyline points="898.5,475.5 898.5,497.5"/>
<polyline points="893.5,497.5 904.5,497.5"/>
<polyline points="893.5,501.5 904.5,501.5"/>
<polyline points="898.5,501.5 898.5,523.5"/>
<polygon points="891.5,523.5 905.5,523.5 898.5,531.5"/>
<text transform="translate(893,508) rotate(-90)">104</text>
<circle class="f" cx="923.5" cy="475.5" r="2.6"/>
<polyline points="923.5,475.5 923.5,493.5"/>
<polyline points="918.5,493.5 929.5,493.5"/>
<polyline points="918.5,497.5 929.5,497.5"/>
<polyline points="923.5,497.5 923.5,515.5 988.5,515.5 988.5,497.5"/>
<path class="f" style="stroke:none" d="M914 485h1v1h-1zM916 485h1v1h-1zM918 485h1v1h-1zM915 486h1v1h-1zM916 486h1v1h-1zM917 486h1v1h-1zM914 487h1v1h-1zM915 487h1v1h-1zM916 487h1v1h-1zM917 487h1v1h-1zM918 487h1v1h-1zM915 488h1v1h-1zM916 488h1v1h-1zM917 488h1v1h-1zM914 489h1v1h-1zM916 489h1v1h-1zM918 489h1v1h-1z"/>
<rect x="945.5" y="463.5" width="21" height="24"/>
<text x="934" y="462">S81350</text>
<text x="947" y="479" style="font-size:7px">O</text><text x="961" y="479" style="font-size:7px">I</text><text x="953" y="487" style="font-size:7px">G</text>
<polyline points="955.5,487.5 955.5,527.5"/>
<circle class="f" cx="955.5" cy="515.5" r="2.6"/>
<polygon points="948.5,527.5 962.5,527.5 955.5,535.5"/>
<polyline points="966.5,475.5 1031.5,475.5"/>
<circle class="f" cx="988.5" cy="475.5" r="2.6"/>
<circle class="f" cx="1009.5" cy="475.5" r="2.6"/>
<circle class="f" cx="1031.5" cy="475.5" r="2.6"/>
<polyline points="988.5,475.5 988.5,493.5"/>
<polyline points="983.5,493.5 994.5,493.5"/>
<polyline points="983.5,497.5 994.5,497.5"/>
<path class="f" style="stroke:none" d="M979 485h1v1h-1zM981 485h1v1h-1zM983 485h1v1h-1zM980 486h1v1h-1zM981 486h1v1h-1zM982 486h1v1h-1zM979 487h1v1h-1zM980 487h1v1h-1zM981 487h1v1h-1zM982 487h1v1h-1zM983 487h1v1h-1zM980 488h1v1h-1zM981 488h1v1h-1zM982 488h1v1h-1zM979 489h1v1h-1zM981 489h1v1h-1zM983 489h1v1h-1z"/>
<text x="989" y="470">C6V</text>
<polyline points="1009.5,475.5 1009.5,493.5"/>
<polyline points="1003.5,493.5 1014.5,493.5"/>
<polyline points="1003.5,497.5 1014.5,497.5"/>
<path class="f" style="stroke:none" d="M1003 495h2v1h-2zM1007 495h2v1h-2zM1011 495h2v1h-2z"/>
<path class="f" style="stroke:none" d="M1012 486h5v1h-5zM1014 484h1v5h-1z"/>
<polyline points="1009.5,497.5 1009.5,535.5"/>
<polygon points="1002.5,535.5 1016.5,535.5 1009.5,543.5"/>
<text transform="translate(1027,505) rotate(-90)">47u</text>
<rect x="829.5" y="623.5" width="33" height="12"/>
<text x="834" y="634">MUTE</text>
<polyline points="862.5,631.5 898.5,631.5"/>
<polyline points="898.5,631.5 900.2,629.3 903.3,633.7 907.3,629.3 910.3,633.7 912,631.5"/>
<polyline points="912.5,631.5 941.5,631.5"/>
<text x="899" y="627">22k</text>
<ellipse cx="945.7" cy="631.5" rx="14.5" ry="16.2"/>
<polyline points="941.5,620.5 941.5,643.5"/>
<polyline points="952.5,587.5 952.5,616.5 941.5,623.5"/>
<polyline points="941.5,638.5 952.5,646.5 952.5,675.5"/>
<polygon points="945.5,675.5 959.5,675.5 952.5,683.5"/>
<polygon class="f" points="953,647.5 944.5,640.5 949,636"/>
<text x="963" y="634">2SC</text>
<text x="961" y="646">1815Y</text>
<polyline points="804.5,607.5 818.5,607.5"/>
<circle class="f" cx="811.5" cy="607.5" r="2.6"/>
<text x="805" y="606">T6V</text>
<polyline points="811.5,607.5 811.5,620.5"/>
<polyline points="811.5,620.5 814,622.38 809,626.12 814,629.88 809,633.62 811.5,635.5"/>
<polyline points="811.5,635.5 811.5,665.5"/>
<text transform="translate(807,634) rotate(-90)">1k</text>
<circle class="f" cx="811.5" cy="647.5" r="2.6"/>
<polyline points="811.5,647.5 858.5,647.5 858.5,815.5"/>
<ellipse cx="804.8" cy="679.5" rx="15" ry="16.5"/>
<polyline points="801.5,667.5 801.5,694.5"/>
<polyline points="811.5,665.5 801.5,673.5"/>
<polyline points="801.5,685.5 811.5,692.5 811.5,719.5"/>
<polygon points="804.5,719.5 818.5,719.5 811.5,727.5"/>
<polygon class="f" points="812,693.5 803.5,687 808,682.5"/>
<polyline points="801.5,679.5 753.5,679.5 753.5,815.5 781.5,815.5"/>
<text x="823" y="682">2SC</text>
<text x="816" y="694">1815GR</text>
<polyline points="753.5,735.5 776.5,735.5"/>
<polyline points="776.5,735.5 778.2,733.3 781.3,737.7 785.3,733.3 788.3,737.7 790,735.5"/>
<polyline points="789.5,735.5 834.5,735.5"/>
<polyline points="834.5,735.5 836.2,733.3 839.3,737.7 843.3,733.3 846.3,737.7 848,735.5"/>
<polyline points="847.5,735.5 858.5,735.5"/>
<circle class="f" cx="753.5" cy="735.5" r="2.6"/>
<circle class="f" cx="811.5" cy="735.5" r="2.6"/>
<circle class="f" cx="858.5" cy="735.5" r="2.6"/>
<text x="776" y="731">18k</text>
<text x="835" y="731">18k</text>
<polyline points="811.5,735.5 811.5,773.5"/>
<circle class="f" cx="811.5" cy="755.5" r="2.6"/>
<polyline points="806.5,773.5 817.5,773.5"/>
<polyline points="806.5,777.5 817.5,777.5"/>
<polyline points="811.5,777.5 811.5,799.5"/>
<polygon points="804.5,799.5 818.5,799.5 811.5,807.5"/>
<text transform="translate(807,785) rotate(-90)">473</text>
<polyline points="811.5,755.5 874.5,755.5"/>
<polyline points="874.5,749.5 874.5,761.5"/>
<polyline points="878.5,749.5 878.5,761.5"/>
<polyline points="878.5,755.5 894.5,755.5 894.5,784.5"/>
<text x="866" y="750">103</text>
<polyline points="894.5,784.5 897,786 892,790.5 897,794.5 892,798.5 897,802.5 892,806.5 894.5,808.5"/>
<polyline points="894.5,808.5 894.5,827.5"/>
<polygon points="887.5,827.5 901.5,827.5 894.5,835.5"/>
<polyline points="900.5,792.5 900.5,798.5"/>
<polyline points="900.5,795.5 928.5,795.5"/>
<polyline points="928.5,789.5 928.5,801.5"/>
<polyline points="932.5,789.5 932.5,801.5"/>
<polyline points="932.5,795.5 952.5,795.5 952.5,707.5 999.5,707.5 999.5,587.5"/>
<text transform="translate(889,805) rotate(-90)">50k</text>
<text x="921" y="791">103</text>
<polyline points="781.5,809.5 781.5,821.5"/>
<polyline points="785.5,809.5 785.5,821.5"/>
<polyline points="785.5,815.5 838.5,815.5"/>
<polyline points="838.5,809.5 838.5,821.5"/>
<polyline points="842.5,809.5 842.5,821.5"/>
<polyline points="842.5,815.5 858.5,815.5"/>
<circle class="f" cx="811.5" cy="815.5" r="2.6"/>
<text x="772" y="811">223</text>
<text x="830" y="811">223</text>
<polyline points="811.5,815.5 811.5,828.5"/>
<polyline points="811.5,828.5 814,830.38 809,834.12 814,837.88 809,841.62 811.5,843.5"/>
<polyline points="811.5,843.5 811.5,866.5"/>
<polyline points="811.5,866.5 814,868 809,872.5 814,876.5 809,880.5 814,884.5 809,888.5 811.5,890.5"/>
<polyline points="802,868 816.5,883"/>
<polyline points="800,871 805,865"/>
<polyline points="811.5,890.5 811.5,907.5"/>
<polygon points="804.5,907.5 818.5,907.5 811.5,915.5"/>
<text transform="translate(808,842) rotate(-90)">1k</text>
<text transform="translate(799,888) rotate(-90)">3.3k</text>
<polygon points="1024.5,560.5 1060.5,579.5 1024.5,599.5"/>
<polyline points="1031.5,475.5 1031.5,563.5"/>
<polyline points="1042.5,569.5 1042.5,503.5 1056.5,503.5 1056.5,521.5"/>
<polyline points="1050.5,521.5 1061.5,521.5"/>
<polyline points="1050.5,525.5 1061.5,525.5"/>
<path class="f" style="stroke:none" d="M1050 523h2v1h-2zM1054 523h2v1h-2zM1058 523h2v1h-2z"/>
<path class="f" style="stroke:none" d="M1059 515h5v1h-5zM1061 513h1v5h-1z"/>
<polyline points="1056.5,525.5 1056.5,543.5 1053.5,543.5 1053.5,574.5"/>
<text transform="translate(1074,533) rotate(-90)">10u</text>
<text x="1032" y="559">6</text>
<text x="1044" y="559">1</text>
<text x="1054" y="559">8</text>
<text x="1061" y="567">LM386N</text>
<text x="1063" y="578">5</text>
<polyline points="1060.5,579.5 1123.5,579.5"/>
<circle class="f" cx="1103.5" cy="579.5" r="2.6"/>
<polyline points="1123.5,573.5 1123.5,584.5"/>
<polyline points="1127.5,573.5 1127.5,584.5"/>
<path class="f" style="stroke:none" d="M1125 573h1v2h-1zM1125 577h1v2h-1zM1125 581h1v2h-1z"/>
<path class="f" style="stroke:none" d="M1116 576h5v1h-5zM1118 574h1v5h-1z"/>
<polyline points="1127.5,579.5 1161.5,579.5"/>
<circle class="f" cx="1161.5" cy="579.5" r="2.6"/>
<text x="1111" y="571">220u</text>
<polyline points="1024.5,571.5 1009.5,571.5 1009.5,619.5"/>
<polygon points="1002.5,619.5 1016.5,619.5 1009.5,627.5"/>
<text x="1014" y="571">2</text>
<path class="f" style="stroke:none" d="M1026 570h5v1h-5z"/>
<path class="f" style="stroke:none" d="M1026 586h5v1h-5zM1028 584h1v5h-1z"/>
<polyline points="1024.5,587.5 999.5,587.5"/>
<text x="1014" y="587">3</text>
<polyline points="1031.5,597.5 1031.5,619.5"/>
<polygon points="1024.5,619.5 1038.5,619.5 1031.5,627.5"/>
<text x="1032" y="610">4</text>
<polyline points="1053.5,584.5 1053.5,625.5"/>
<polyline points="1047.5,625.5 1058.5,625.5"/>
<polyline points="1047.5,629.5 1058.5,629.5"/>
<path class="f" style="stroke:none" d="M1047 627h2v1h-2zM1051 627h2v1h-2zM1055 627h2v1h-2z"/>
<path class="f" style="stroke:none" d="M1055 619h5v1h-5zM1057 617h1v5h-1z"/>
<polyline points="1053.5,629.5 1053.5,651.5"/>
<polygon points="1046.5,651.5 1060.5,651.5 1053.5,659.5"/>
<text x="1054" y="610">7</text>
<text transform="translate(1073,637) rotate(-90)">15u</text>
<polyline points="1103.5,579.5 1103.5,625.5"/>
<polyline points="1098.5,625.5 1109.5,625.5"/>
<polyline points="1098.5,629.5 1109.5,629.5"/>
<polyline points="1103.5,629.5 1103.5,652.5"/>
<polyline points="1103.5,652.5 1106,654.38 1101,658.12 1106,661.88 1101,665.62 1103.5,667.5"/>
<polyline points="1103.5,667.5 1103.5,683.5"/>
<polygon points="1096.5,683.5 1110.5,683.5 1103.5,691.5"/>
<text transform="translate(1099,637) rotate(-90)">473</text>
<text transform="translate(1100,662) rotate(-90)">10</text>
<circle class="f" cx="1136.5" cy="439.5" r="2.6"/>
<polyline points="1103.5,452.5 1103.5,439.5 1161.5,439.5 1161.5,460.5"/>
<polyline points="1103.5,452.5 1106,454.5 1101,458.5 1106,462.5 1101,466.5 1103.5,468.5"/>
<polyline points="1103.5,468.5 1103.5,483.5"/>
<polygon points="1096.5,483.5 1110.5,483.5 1103.5,491.5"/>
<text transform="translate(1100,472) rotate(-90)">2.2k</text>
<polyline points="1136.5,439.5 1136.5,457.5"/>
<polyline points="1130.5,457.5 1141.5,457.5"/>
<polyline points="1130.5,461.5 1141.5,461.5"/>
<path class="f" style="stroke:none" d="M1130 459h2v1h-2zM1134 459h2v1h-2zM1138 459h2v1h-2z"/>
<path class="f" style="stroke:none" d="M1131 467h5v1h-5zM1133 465h1v5h-1z"/>
<polyline points="1136.5,461.5 1136.5,483.5"/>
<polygon points="1129.5,483.5 1143.5,483.5 1136.5,491.5"/>
<text transform="translate(1128,469) rotate(-90)">15u</text>
<polygon class="f" points="1156.5,460.5 1167,460.5 1161.75,466"/>
<polyline points="1156.5,465.5 1167.5,465.5"/>
<polyline points="1161.5,465.5 1161.5,541.5"/>
<text transform="translate(1156,476) rotate(-90)">1N60</text>
<circle class="f" cx="1161.5" cy="511.5" r="2.6"/>
<polyline points="1161.5,511.5 1142.5,511.5"/>
<polygon class="f" points="1138,512 1143.5,506.5 1143.5,517.5"/>
<polyline points="1137.5,506.5 1137.5,517.5"/>
<polyline points="1137.5,511.5 1118.5,511.5 1118.5,523.5"/>
<polygon points="1111.5,523.5 1125.5,523.5 1118.5,531.5"/>
<text x="1130" y="507">1N60</text>
<polyline points="1155.5,541.5 1166.5,541.5"/>
<polyline points="1155.5,545.5 1166.5,545.5"/>
<path class="f" style="stroke:none" d="M1155 543h2v1h-2zM1159 543h2v1h-2zM1163 543h2v1h-2z"/>
<path class="f" style="stroke:none" d="M1156 551h5v1h-5zM1158 549h1v5h-1z"/>
<text transform="translate(1153,553) rotate(-90)">10u</text>
<polyline points="1161.5,545.5 1161.5,596.5"/>
<polyline points="1161.5,596.5 1164,598 1159,602.5 1164,606.5 1159,610.5 1164,614.5 1159,618.5 1161.5,620.5"/>
<polyline points="1161.5,620.5 1161.5,639.5"/>
<polygon points="1154.5,639.5 1168.5,639.5 1161.5,647.5"/>
<text transform="translate(1156,613) rotate(-90)">1k</text>
<path class="f" style="stroke:none" d="M1165 607h3v1h-3zM1168 606h3v3h-3zM1171 605h3v5h-3zM1174 604h3v7h-3z"/>
<polyline points="1176.5,607.5 1215.5,607.5 1215.5,651.5"/>
<text x="1184" y="602">AF GAIN</text>
<circle class="f" cx="1215.5" cy="651.5" r="2.6"/>
<polyline points="1179.5,687.5 1179.5,651.5 1243.5,651.5"/>
<circle cx="1245.5" cy="651.5" r="2" fill="#fff"/>
<polyline points="1247.5,651.5 1273.5,651.5 1281.5,659.5 1288.5,651.5"/>
<polyline points="1219.5,663.5 1243.5,663.5"/>
<circle cx="1245.5" cy="663.5" r="2" fill="#fff"/>
<polyline points="1247.5,663.5 1258.5,663.5 1258.5,655.5"/>
<polyline points="1255.5,658.5 1258.5,655.5 1261.5,658.5"/>
<polyline points="1179.5,687.5 1190.5,687.5"/>
<polyline points="1190.5,687.5 1192.2,685.3 1195.3,689.7 1199.3,685.3 1202.3,689.7 1204,687.5"/>
<polyline points="1204.5,687.5 1243.5,687.5"/>
<circle cx="1245.5" cy="687.5" r="2" fill="#fff"/>
<polyline points="1247.5,687.5 1263.5,687.5 1266.5,683.5 1269.5,687.5"/>
<text x="1195" y="683">10</text>
<polyline points="1215.5,719.5 1215.5,699.5 1243.5,699.5"/>
<circle cx="1245.5" cy="699.5" r="2" fill="#fff"/>
<polyline points="1247.5,699.5 1294.5,699.5"/>
<polygon points="1208.5,719.5 1222.5,719.5 1215.5,727.5"/>
<rect x="1294.5" y="647.5" width="11" height="52"/>
<text x="1110" y="747" style="font-size:12px;font-weight:bold;letter-spacing:2px">2.2</text>
<polyline points="1013.5,771.5 1026.5,771.5"/>
<polyline points="1026.5,765.5 1026.5,777.5"/>
<polyline points="1030.5,765.5 1030.5,777.5"/>
<polyline points="1030.5,771.5 1043.5,771.5"/>
<path class="f" style="stroke:none" d="M1033 762h1v1h-1zM1035 762h1v1h-1zM1037 762h1v1h-1zM1034 763h1v1h-1zM1035 763h1v1h-1zM1036 763h1v1h-1zM1033 764h1v1h-1zM1034 764h1v1h-1zM1035 764h1v1h-1zM1036 764h1v1h-1zM1037 764h1v1h-1zM1034 765h1v1h-1zM1035 765h1v1h-1zM1036 765h1v1h-1zM1033 766h1v1h-1zM1035 766h1v1h-1zM1037 766h1v1h-1z"/>
<text x="1046" y="774">=103</text>
<rect x="1002.5" y="787.5" width="307" height="136"/>
<polyline points="1002.5,827.5 1309.5,827.5"/>
<polyline points="1002.5,875.5 1309.5,875.5"/>
<polyline points="1002.5,903.5 1309.5,903.5"/>
<polyline points="1028.5,875.5 1028.5,903.5"/>
<polyline points="1107.5,875.5 1107.5,903.5"/>
<polyline points="1284.5,875.5 1284.5,903.5"/>
<polyline points="1183.5,903.5 1183.5,923.5"/>
<text x="1109" y="816" style="font-family:&quot;Liberation Sans&quot;,sans-serif;font-size:17px;font-weight:bold;letter-spacing:2.2px">JG1EAD</text>
<text x="1068" y="860" style="font-family:&quot;Liberation Sans&quot;,sans-serif;font-size:19px;font-weight:bold;letter-spacing:1.6px;word-spacing:3px">MC3362 40mTRX</text>
<text x="1007" y="835" style="font-size:7px;font-weight:bold">TITLE</text>
<text x="1004" y="884" style="font-size:7px">SIZE</text><text x="1029" y="884" style="font-size:7px">CODE</text><text x="1108" y="884" style="font-size:7px">DWG NO.</text><text x="1288" y="884" style="font-size:7px">REV</text>
<text x="1006" y="896" style="font-size:12px;font-weight:bold">A4</text>
<text x="1162" y="896" style="font-size:12px;font-weight:bold">000000</text>
<text transform="translate(1287,896) scale(1,1.35)" style="font-size:10px">2.2</text>
<text x="1007" y="918">DATE</text>
<text x="1043" y="918">January 5 ,1999</text>
<text x="1187" y="918">SHEET 1 OF 1</text>
</svg></body></html>
